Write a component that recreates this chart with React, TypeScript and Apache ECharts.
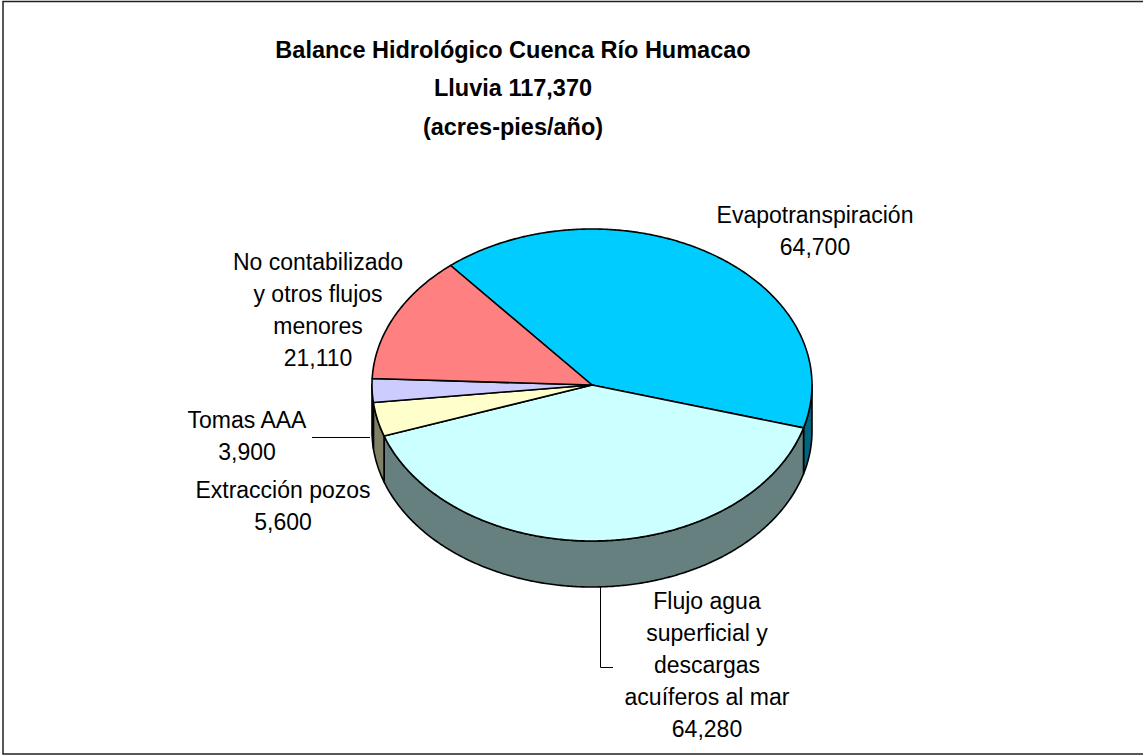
import React, { useEffect, useRef } from "react";
import * as echarts from "echarts";

// ---- data ----
const titleLines = ["Balance Hidrológico Cuenca Río Humacao", "Lluvia 117,370", "(acres-pies/año)"];
const categories = [
  "Evapotranspiración",
  "Flujo agua\nsuperficial y\ndescargas\nacuíferos al mar",
  "Extracción pozos",
  "Tomas AAA",
  "No contabilizado\ny otros flujos\nmenores",
];
const values = [64700, 64280, 5600, 3900, 21110];
const topColors = ["#00CCFF", "#CCFFFF", "#FFFFCC", "#CCCCFF", "#FF8080"];
const sideColors = ["#006680", "#668080", "#808066", "#666680", "#804040"];

// ---- layout / style ----
const START_ANGLE = 130;
const CX = 592, CY = 385, RX = 220, RY = 156, DEPTH = 46;
const labelPos: [number, number][] = [
  [815, 231],
  [707, 665],
  [283, 506],
  [247, 436],
  [318, 310],
];
const FONT = 'Arial, "Liberation Sans", sans-serif';

function buildData() {
  const total = values.reduce((a, b) => a + b, 0);
  let a = START_ANGLE;
  return values.map((v) => {
    const span = (v / total) * 360;
    const s = a;
    const e = a - span;
    a = e;
    return [v, s, e];
  });
}

function pt(deg: number, dy = 0): number[] {
  const r = (deg * Math.PI) / 180;
  return [CX + RX * Math.cos(r), CY - RY * Math.sin(r) + dy];
}

function arc(s: number, e: number, dy = 0): number[][] {
  const n = Math.max(2, Math.ceil(Math.abs(s - e) / 0.5) + 1);
  const out: number[][] = [];
  for (let i = 0; i < n; i++) {
    out.push(pt(s + ((e - s) * i) / (n - 1), dy));
  }
  return out;
}

export default function App() {
  const ref = useRef<HTMLDivElement>(null);
  useEffect(() => {
    if (!ref.current) return;
    const chart = echarts.init(ref.current, undefined, { renderer: "svg" });
    const data = buildData();

    const renderItem = (params: any, api: any) => {
      const i = params.dataIndex;
      const s = api.value(1) as number;
      const e = api.value(2) as number;
      const children: any[] = [];
      for (const k of [-1, 0, 1]) {
        const lo = Math.max(e, k * 360 - 180);
        const hi = Math.min(s, k * 360);
        if (hi - lo > 0.01) {
          const topArc = arc(hi, lo, 0);
          const botArc = arc(lo, hi, DEPTH);
          children.push({
            type: "polygon",
            shape: { points: topArc.concat(botArc) },
            style: { fill: sideColors[i], stroke: "#000", lineWidth: 1.6, lineJoin: "round" },
            z2: 1,
          });
        }
      }
      children.push({
        type: "polygon",
        shape: { points: [[CX, CY]].concat(arc(s, e, 0)) },
        style: { fill: topColors[i], stroke: "#000", lineWidth: 1.6, lineJoin: "round" },
        z2: 2,
      });
      return { type: "group", children };
    };

    const labelGraphics = categories.map((c, i) => ({
      type: "text",
      x: labelPos[i][0],
      y: labelPos[i][1],
      style: {
        text: c + "\n" + values[i].toLocaleString("en-US"),
        fill: "#000",
        fontSize: 23,
        fontFamily: FONT,
        align: "center",
        verticalAlign: "middle",
        lineHeight: 32,
      },
    }));

    chart.setOption({
      animation: false,
      backgroundColor: "#fff",
      series: [
        {
          type: "custom",
          coordinateSystem: "none",
          renderItem,
          data,
          silent: true,
        },
      ],
      graphic: [
        {
          type: "rect",
          shape: { x: 3, y: 1.5, width: 1145, height: 752.5 },
          style: { fill: "none", stroke: "#222", lineWidth: 1.5 },
        },
        {
          type: "text",
          x: 513,
          y: 88,
          style: {
            text: titleLines.join("\n"),
            fill: "#000",
            fontSize: 23.5,
            fontWeight: "bold",
            fontFamily: FONT,
            align: "center",
            verticalAlign: "middle",
            lineHeight: 38.5,
          },
        },
        ...labelGraphics,
        {
          type: "line",
          shape: { x1: 312, y1: 437.5, x2: 370, y2: 437.5 },
          style: { stroke: "#000", lineWidth: 1 },
        },
        {
          type: "polyline",
          shape: { points: [[600.5, 587], [600.5, 667.5], [613, 667.5]] },
          style: { stroke: "#000", lineWidth: 1, fill: "none" },
        },
      ],
    });
    return () => chart.dispose();
  }, []);
  return (
    <div
      ref={ref}
      style={{ position: "absolute", left: 0, top: 0, width: 1143, height: 755, background: "#fff" }}
    />
  );
}
